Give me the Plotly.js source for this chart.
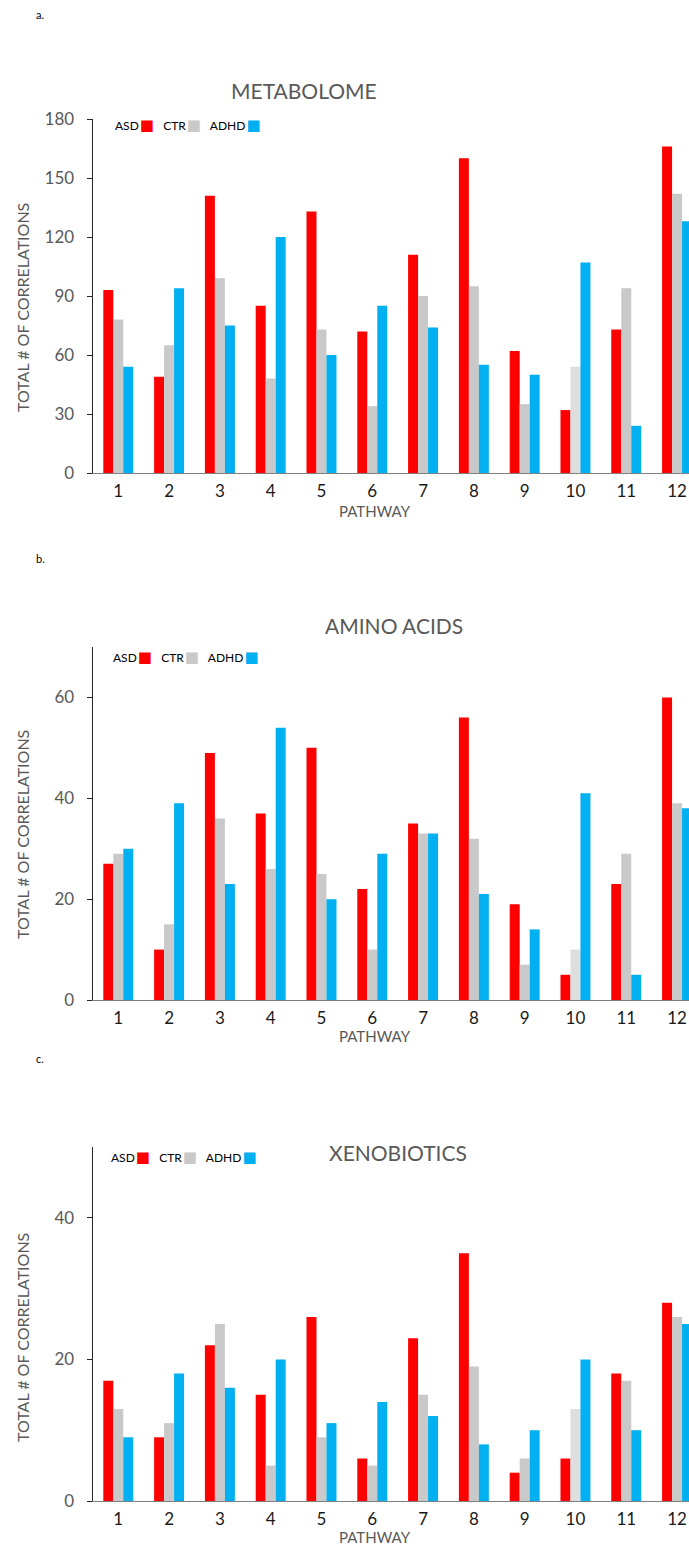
<!DOCTYPE html>
<html>
<head>
<meta charset="utf-8">
<script src="https://cdn.plot.ly/plotly-3.0.1.min.js"></script>
<style>
  html, body { margin: 0; padding: 0; background: #ffffff; overflow: hidden; }
  #chart { width: 689px; height: 1548px; }
</style>
</head>
<body>
<div id="chart"></div>
<script>
// ---------- DATA ----------
const categories = ['1','2','3','4','5','6','7','8','9','10','11','12'];
const seriesNames = ['ASD', 'CTR', 'ADHD'];
const panelTitles = ['METABOLOME', 'AMINO ACIDS', 'XENOBIOTICS'];
const panelLetters = ['a.', 'b.', 'c.'];
const yAxisTitle = 'TOTAL # OF CORRELATIONS';
const xAxisTitle = 'PATHWAY';

const metabolomeASD  = [93, 49, 141, 85, 133, 72, 111, 160, 62, 32, 73, 166];
const metabolomeCTR  = [78, 65, 99, 48, 73, 34, 90, 95, 35, 54, 94, 142];
const metabolomeADHD = [54, 94, 75, 120, 60, 85, 74, 55, 50, 107, 24, 128];

const aminoASD  = [27, 10, 49, 37, 50, 22, 35, 56, 19, 5, 23, 60];
const aminoCTR  = [29, 15, 36, 26, 25, 10, 33, 32, 7, 10, 29, 39];
const aminoADHD = [30, 39, 23, 54, 20, 29, 33, 21, 14, 41, 5, 38];

const xenoASD  = [17, 9, 22, 15, 26, 6, 23, 35, 4, 6, 18, 28];
const xenoCTR  = [13, 11, 25, 5, 9, 5, 15, 19, 6, 13, 17, 26];
const xenoADHD = [9, 18, 16, 20, 11, 14, 12, 8, 10, 20, 10, 25];

const metabolomeTicks = [0, 30, 60, 90, 120, 150, 180];
const aminoTicks = [0, 20, 40, 60];
const xenoTicks = [0, 20, 40];
const yMax = [180, 70, 50];

// ---------- STYLE ----------
const W = 689, H = 1548;
const FONT = 'Lato, "Open Sans", "DejaVu Sans", sans-serif';
const RED = '#FF0000', GRAY = '#C9C9C9', LIGHTGRAY = '#DEDEDE', BLUE = '#00B0F0';
const TXT_GRAY = '#595959';
const px = x => x / W;
const py = y => 1 - y / H;

const panelData = [
  [metabolomeASD, metabolomeCTR, metabolomeADHD],
  [aminoASD, aminoCTR, aminoADHD],
  [xenoASD, xenoCTR, xenoADHD]
];
const panelTicks = [metabolomeTicks, aminoTicks, xenoTicks];

// pixel geometry of each panel's plot area
const geo = [
  { top: 119, bottom: 473, title: [304, 91], ytitle: 308, xtitle: 511, letter: 14, legend: [113, 125] },
  { top: 647, bottom: 1000, title: [394, 625], ytitle: 835, xtitle: 1036, letter: 558, legend: [111, 657] },
  { top: 1147, bottom: 1501, title: [398, 1152], ytitle: 1338, xtitle: 1537, letter: 1058, legend: [109, 1157] }
];
const axisLeft = 92.9;

const ctrColors = categories.map(c => c === '10' ? LIGHTGRAY : GRAY);
const seriesColors = [RED, ctrColors, BLUE];
const legendColors = [RED, GRAY, BLUE];

const traces = [];
const layout = {
  width: W, height: H,
  margin: { l: 0, r: 0, t: 0, b: 0 },
  paper_bgcolor: '#ffffff', plot_bgcolor: '#ffffff',
  barmode: 'group', bargap: 0.41, bargroupgap: 0,
  showlegend: false,
  font: { family: FONT, color: TXT_GRAY },
  annotations: []
};

panelData.forEach((series, p) => {
  const sfx = p === 0 ? '' : String(p + 1);
  series.forEach((vals, s) => {
    traces.push({
      type: 'bar',
      name: seriesNames[s],
      x: categories,
      y: vals,
      xaxis: 'x' + sfx, yaxis: 'y' + sfx,
      marker: { color: seriesColors[s], line: { width: 0 } },
      hoverinfo: 'x+y+name'
    });
  });
  const g = geo[p];
  layout['xaxis' + sfx] = {
    domain: [px(axisLeft), 1], anchor: 'y' + sfx,
    type: 'category', range: [-0.5, 11.235],
    showline: true, linecolor: '#7f7f7f', linewidth: 1.3,
    ticks: '', showgrid: false, zeroline: false,
    tickfont: { family: FONT, size: 17, color: '#1a1a1a' },
    ticklabelstandoff: 2, fixedrange: true
  };
  layout['yaxis' + sfx] = {
    domain: [py(g.bottom), py(g.top)], anchor: 'x' + sfx,
    range: [0, yMax[p]], tickvals: panelTicks[p],
    showline: true, linecolor: '#262626', linewidth: 1.3,
    ticks: 'outside', ticklen: 5, tickcolor: '#262626', tickwidth: 1,
    showgrid: false, zeroline: false,
    tickfont: { family: FONT, size: 17, color: TXT_GRAY },
    ticklabelstandoff: 9, fixedrange: true
  };
  // panel letter
  layout.annotations.push({
    xref: 'paper', yref: 'paper', x: px(34), y: py(g.letter),
    xanchor: 'left', yanchor: 'middle', showarrow: false,
    text: panelLetters[p], font: { family: FONT, size: 11, color: '#000000' }
  });
  // panel title
  layout.annotations.push({
    xref: 'paper', yref: 'paper', x: px(g.title[0]), y: py(g.title[1]),
    xanchor: 'center', yanchor: 'middle', showarrow: false,
    text: panelTitles[p], font: { family: FONT, size: 21, color: TXT_GRAY }
  });
  // y title
  layout.annotations.push({
    xref: 'paper', yref: 'paper', x: px(22), y: py(g.ytitle),
    xanchor: 'center', yanchor: 'middle', showarrow: false, textangle: -90,
    text: yAxisTitle, font: { family: FONT, size: 16, color: TXT_GRAY }
  });
  // x title
  layout.annotations.push({
    xref: 'paper', yref: 'paper', x: px(375), y: py(g.xtitle),
    xanchor: 'center', yanchor: 'middle', showarrow: false,
    text: xAxisTitle, font: { family: FONT, size: 15, color: TXT_GRAY }
  });
  // legend (text followed by colour swatch)
  const legendText = seriesNames.map((n, s) =>
    n + '<span style="font-size:4px"> </span><span style="font-family:DejaVu Sans;font-size:15px;color:' + legendColors[s] + '">■</span>'
  ).join('&nbsp;&nbsp;&nbsp;');
  layout.annotations.push({
    xref: 'paper', yref: 'paper', x: px(g.legend[0]), y: py(g.legend[1]),
    xanchor: 'left', yanchor: 'middle', showarrow: false,
    text: legendText, font: { family: FONT, size: 12, color: '#000000' }
  });
});

Plotly.newPlot('chart', traces, layout, { displayModeBar: false, staticPlot: true });
</script>
</body>
</html>
